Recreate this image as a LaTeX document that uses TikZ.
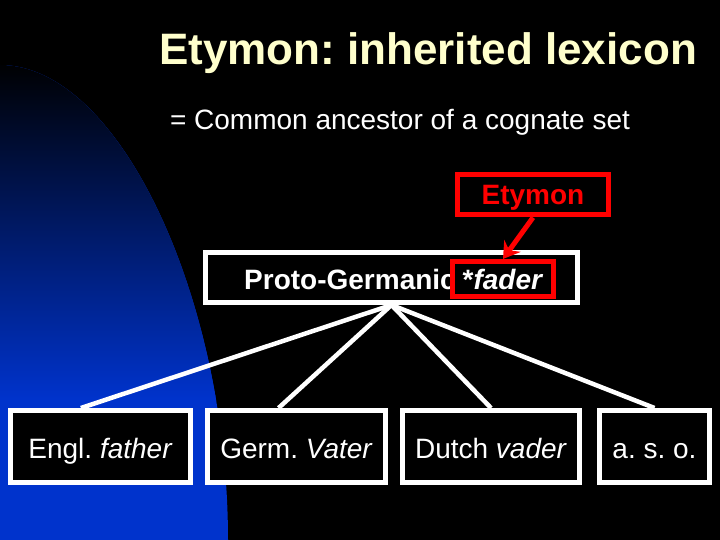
\documentclass[tikz,border=0pt]{standalone}
\usepackage{fontspec}
\setmainfont{Liberation Sans}
\usetikzlibrary{arrows.meta}
\frenchspacing

\definecolor{titlecream}{RGB}{255,255,204}
\definecolor{slideblue}{RGB}{0,51,204}
\definecolor{etyred}{RGB}{255,0,0}

\begin{document}
\begin{tikzpicture}[x=1pt, y=-1pt,
    wordbox/.style={draw=white, line width=5pt, fill=black, text=white, inner sep=0pt,
      minimum height=72pt, text height=27pt, text depth=4pt, font=\fontsize{28}{34}\selectfont},
    redbox/.style={draw=etyred, line width=5pt, inner sep=0pt},
    branch/.style={white, line width=4.5pt}]
  \useasboundingbox (0,0) rectangle (720,540);
  \fill[black] (0,0) rectangle (720,540);
  \begin{scope}
    \clip (0,65) .. controls (120,65) and (228,300) .. (228,540) -- (0,540) -- cycle;
    \fill[slideblue] (0,60) rectangle (240,540);
    \shade[top color=black, bottom color=slideblue] (0,60) rectangle (240,400);
  \end{scope}

  \node[text=titlecream, font=\fontsize{44}{50}\selectfont\bfseries] (title) at (428,53) {Etymon: inherited lexicon};
  \node[text=white, font=\fontsize{28}{34}\selectfont] (sub) at (400,122) {= Common ancestor of a cognate set};

  \node[draw=white, line width=5pt, fill=black, inner sep=0pt,
        minimum width=372pt, minimum height=50pt] (proto) at (391.5,277.5) {};
  \node[text=white, inner sep=0pt, anchor=base east, font=\fontsize{28}{34}\selectfont\bfseries] (pg) at (456,289) {Proto-Germanic};
  \node[redbox, text=white, minimum width=101pt, minimum height=35pt,
        font=\fontsize{28}{34}\selectfont\bfseries] (fader) at (503,279) {*\textit{fader}};

  \node[redbox, text=etyred, minimum width=151pt, minimum height=40pt, text height=24pt, text depth=4pt,
        font=\fontsize{28}{34}\selectfont\bfseries] (ety) at (533,195) {Etymon};
  \draw[etyred, line width=5pt, -{Stealth[length=16pt, width=20pt]}] (ety.south) -- (fader.north);

  \node[wordbox, minimum width=180pt] (engl) at (100.5,446.5) {Engl. \textit{father}};
  \node[wordbox, minimum width=178pt] (germ) at (296.5,446.5) {Germ. \textit{Vater}};
  \node[wordbox, minimum width=177pt] (dutch) at (491,446.5) {Dutch \textit{vader}};
  \node[wordbox, minimum width=110pt] (aso) at (654.5,446.5) {a. s. o.};

  \draw[branch] (proto.south) -- (engl.117);
  \draw[branch] (proto.south) -- (germ.115);
  \draw[branch] (proto.south) -- (dutch.north);
  \draw[branch] (proto.south) -- (aso.north);
\end{tikzpicture}
\end{document}
